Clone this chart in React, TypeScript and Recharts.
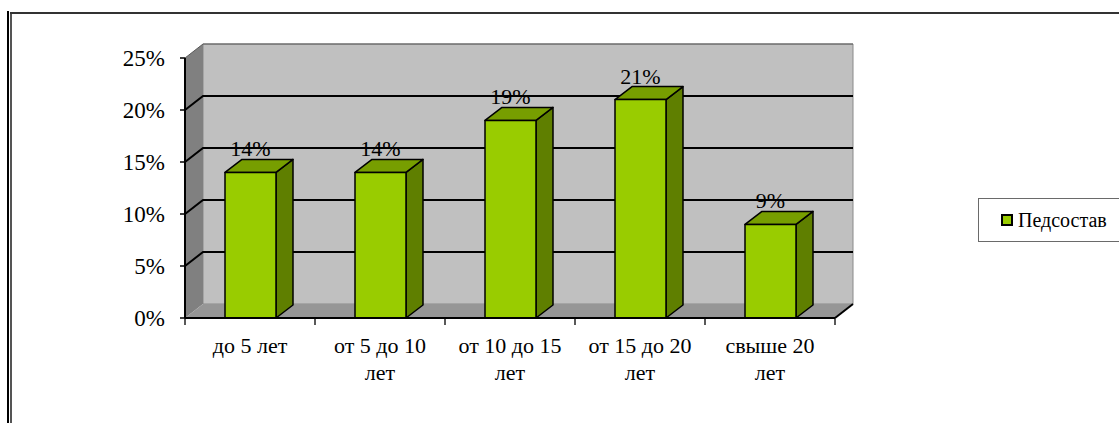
import React from "react";
import { BarChart, Bar, XAxis, YAxis, CartesianGrid, LabelList, Legend } from "recharts";

const categories = ["до 5 лет", "от 5 до 10 лет", "от 10 до 15 лет", "от 15 до 20 лет", "свыше 20 лет"];
const values = [14, 14, 19, 21, 9];
const yTicks = [0, 5, 10, 15, 20, 25];
const seriesName = "Педсостав";

const data = categories.map((c, i) => ({ name: c, value: values[i] }));

const FONT = "'Liberation Serif', 'Times New Roman', 'DejaVu Serif', serif";
const WDX = 18;
const WDY = -14;
const BDX = 17;
const BDY = -13;
const FRONT = "#99CC00";
const TOP = "#779E00";
const SIDE = "#5F7F00";

function wrapLabel(s: string): string[] {
  if (s.length <= 8) return [s];
  const i = s.lastIndexOf(" ");
  return [s.slice(0, i), s.slice(i + 1)];
}

function GridLine(props: any) {
  const { x1, y1, x2, index, x, y, width, height } = props;
  const bottom = y + height;
  const right = x + width;
  const isBottom = Math.abs(y1 - bottom) < 0.5;
  const isTop = Math.abs(y1 - y) < 0.5;
  const n = categories.length;
  const step = width / n;
  return (
    <g>
      {index === 0 && (
        <g>
          <polygon
            points={`${x + WDX},${y + WDY} ${right + WDX},${y + WDY} ${right + WDX},${bottom + WDY} ${x + WDX},${bottom + WDY}`}
            fill="#C0C0C0"
            stroke="#8a8a8a"
            strokeWidth={1}
          />
          <polygon
            points={`${x},${y} ${x + WDX},${y + WDY} ${x + WDX},${bottom + WDY} ${x},${bottom}`}
            fill="#808080"
          />
          <polygon
            points={`${x},${bottom} ${right},${bottom} ${right + WDX},${bottom + WDY} ${x + WDX},${bottom + WDY}`}
            fill="#969696"
          />
          <line x1={right} y1={bottom} x2={right + WDX} y2={bottom + WDY} stroke="#000" strokeWidth={2} />
          {Array.from({ length: n + 1 }).map((_, k) => (
            <line key={k} x1={x + k * step} y1={bottom} x2={x + k * step} y2={bottom + 7} stroke="#222" strokeWidth={1.5} />
          ))}
        </g>
      )}
      {!isBottom && (
        <polyline
          points={`${x1},${y1} ${x1 + WDX},${y1 + WDY} ${x2 + WDX},${y1 + WDY}`}
          fill="none"
          stroke={isTop ? "#5a5a5a" : "#000"}
          strokeWidth={isTop ? 1 : 2}
        />
      )}
    </g>
  );
}

function Bar3D(props: any) {
  const { x, y, width, height } = props;
  if (!height) return null;
  const x2 = x + width;
  const yb = y + height;
  return (
    <g stroke="#000" strokeWidth={1.5} strokeLinejoin="round">
      <polygon points={`${x2},${y} ${x2 + BDX},${y + BDY} ${x2 + BDX},${yb + BDY} ${x2},${yb}`} fill={SIDE} />
      <polygon points={`${x},${y} ${x + BDX},${y + BDY} ${x2 + BDX},${y + BDY} ${x2},${y}`} fill={TOP} />
      <rect x={x} y={y} width={width} height={height} fill={FRONT} />
    </g>
  );
}

function XTick(props: any) {
  const { x, y, payload } = props;
  const lines = wrapLabel(String(payload.value));
  return (
    <g>
      {lines.map((l, i) => (
        <text key={i} x={x} y={y + 27 + i * 27} textAnchor="middle" fontSize={22} fontFamily={FONT} fill="#000">
          {l}
        </text>
      ))}
    </g>
  );
}

function ValueLabel(props: any) {
  const { x, y, width, value } = props;
  return (
    <text x={x + width / 2} y={y - 16} textAnchor="middle" fontSize={22} fontFamily={FONT} fill="#000">
      {`${value}%`}
    </text>
  );
}

function LegendBox() {
  return (
    <div
      style={{
        width: 170,
        height: 44,
        border: "1px solid #6a6a6a",
        background: "#fff",
        boxSizing: "border-box",
        display: "flex",
        alignItems: "center",
        paddingLeft: 22,
        fontFamily: FONT,
        fontSize: 20,
        color: "#000",
      }}
    >
      <span
        style={{
          display: "inline-block",
          width: 8,
          height: 8,
          border: "2px solid #000",
          background: FRONT,
          marginRight: 5,
        }}
      />
      <span>{seriesName}</span>
    </div>
  );
}

export default function App() {
  return (
    <div style={{ position: "absolute", left: 0, top: 0, width: 1119, height: 423, overflow: "hidden", background: "#fff" }}>
      <div style={{ position: "absolute", left: 7, top: 11, width: 2, height: 412, background: "#000" }} />
      <div style={{ position: "absolute", left: 10, top: 12, width: 2, height: 411, background: "#555" }} />
      <div style={{ position: "absolute", left: 10, top: 12, width: 1109, height: 2, background: "#333" }} />
      <div style={{ position: "absolute", left: 0, top: 0 }}>
        <BarChart
          width={1119}
          height={423}
          data={data}
          margin={{ top: 58, right: 284, left: 125, bottom: 45 }}
          barSize={51}
        >
          <CartesianGrid vertical={false} horizontal={(p: any) => <GridLine {...p} />} stroke="#000" />
          <XAxis
            dataKey="name"
            height={60}
            tickLine={false}
            axisLine={{ stroke: "#000", strokeWidth: 2 }}
            tick={<XTick />}
            interval={0}
          />
          <YAxis
            width={60}
            domain={[0, 25]}
            ticks={yTicks}
            tickFormatter={(v: number) => `${v}%`}
            tickSize={5}
            tickMargin={15}
            axisLine={{ stroke: "#000", strokeWidth: 2 }}
            tickLine={{ stroke: "#000", strokeWidth: 1.5 }}
            tick={{ fill: "#000", fontSize: 23, fontFamily: FONT }}
          />
          <Legend
            layout="horizontal"
            verticalAlign="middle"
            align="center"
            wrapperStyle={{ position: "absolute", left: 978, top: 198, width: 170 }}
            content={() => <LegendBox />}
          />
          <Bar dataKey="value" name={seriesName} shape={<Bar3D />} isAnimationActive={false}>
            <LabelList dataKey="value" content={<ValueLabel />} />
          </Bar>
        </BarChart>
      </div>
    </div>
  );
}
